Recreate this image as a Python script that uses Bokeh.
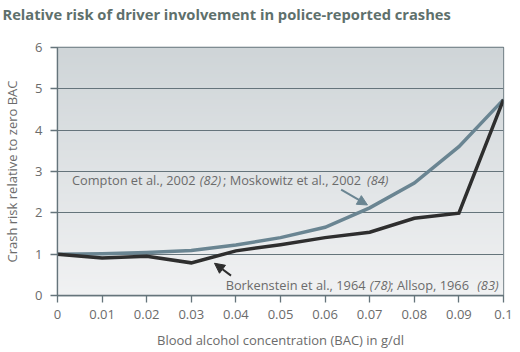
import numpy as np
from bokeh.plotting import figure
from bokeh.models import FixedTicker, Arrow, NormalHead, Label, Title
from bokeh.embed import file_html
from bokeh.resources import INLINE

bac = [0.0, 0.01, 0.02, 0.03, 0.04, 0.05, 0.06, 0.07, 0.08, 0.09, 0.1]
compton = [1.0, 1.01, 1.04, 1.09, 1.22, 1.40, 1.65, 2.12, 2.72, 3.60, 4.74]
borkenstein = [1.0, 0.91, 0.95, 0.79, 1.08, 1.23, 1.40, 1.53, 1.87, 1.99, 4.74]
x_ticks = [0, 0.01, 0.02, 0.03, 0.04, 0.05, 0.06, 0.07, 0.08, 0.09, 0.1]
x_tick_labels = ["0", "0.01", "0.02", "0.03", "0.04", "0.05", "0.06", "0.07", "0.08", "0.09", "0.1"]
y_ticks = [0, 1, 2, 3, 4, 5, 6]
title_text = "Relative risk of driver involvement in police-reported crashes"

FONT = "Open Sans"
AXIS_C = "#65747b"
TEXT_C = "#6b6b6b"
GRAY_LINE = "#6a8592"
DARK_LINE = "#2e2e2e"

p = figure(width=520, height=352, x_range=(0, 0.1), y_range=(0, 6),
           output_backend="svg", toolbar_location=None,
           min_border_left=53, min_border_right=17, min_border_top=0, min_border_bottom=57)
p.background_fill_color = "white"
p.border_fill_color = "white"
p.outline_line_color = AXIS_C
p.outline_line_width = 1.3

# gradient background
n = 200
top = np.array([0xcf, 0xd5, 0xd8], dtype=float)
bot = np.array([0xf1, 0xf2, 0xf3], dtype=float)
img = np.empty((n, 1), dtype=np.uint32)
view = img.view(dtype=np.uint8).reshape((n, 1, 4))
for i in range(n):
    t = i / (n - 1)  # 0 bottom -> 1 top
    c = bot + (top - bot) * t
    view[i, 0, 0] = int(c[0]); view[i, 0, 1] = int(c[1]); view[i, 0, 2] = int(c[2]); view[i, 0, 3] = 255
p.image_rgba(image=[img], x=0, y=0, dw=0.1, dh=6, level="image")

# title: spacer panel next to the frame, real title above it
p.title.text = ""
p.add_layout(Title(text=" ", text_font_size="1px", standoff=16), "above")
p.add_layout(Title(text=title_text, text_font=FONT, text_font_size="14.7px",
                   text_font_style="bold", text_color="#5e706c",
                   offset=-55, vertical_align="top", standoff=6), "above")

# grid
p.xgrid.grid_line_color = None
p.ygrid.ticker = FixedTicker(ticks=y_ticks)
p.ygrid.grid_line_color = AXIS_C
p.ygrid.grid_line_width = 1

# axes
for ax in (p.xaxis[0], p.yaxis[0]):
    ax.axis_line_color = AXIS_C
    ax.axis_line_width = 1.3
    ax.major_tick_line_color = AXIS_C
    ax.major_tick_line_width = 1.3
    ax.major_tick_out = 7
    ax.major_tick_in = 0
    ax.minor_tick_line_color = None
    ax.major_label_text_font = FONT
    ax.major_label_text_font_size = "13px"
    ax.major_label_text_color = TEXT_C
    ax.axis_label_text_font = FONT
    ax.axis_label_text_font_size = "13px"
    ax.axis_label_text_font_style = "normal"
    ax.axis_label_text_color = TEXT_C

p.xaxis.ticker = FixedTicker(ticks=x_ticks)
p.xaxis.major_label_overrides = {t: l for t, l in zip(x_ticks, x_tick_labels)}
p.xaxis.major_label_standoff = 7
p.xaxis.axis_label = "Blood alcohol concentration (BAC) in g/dl"
p.xaxis.axis_label_standoff = 9

p.yaxis.ticker = FixedTicker(ticks=y_ticks)
p.yaxis.major_label_standoff = 8
p.yaxis.axis_label = "Crash risk relative to zero BAC"
p.yaxis.axis_label_standoff = 11

# lines
p.line(bac, compton, line_color=GRAY_LINE, line_width=3.5, line_join="miter")
p.line(bac, borkenstein, line_color=DARK_LINE, line_width=3.5, line_join="miter")

# annotations
def seg(x, y, txt, italic=False):
    p.add_layout(Label(x=x, y=y, text=txt, text_font=FONT, text_font_size="12.8px",
                       text_color=TEXT_C, text_baseline="middle",
                       text_font_style="italic" if italic else "normal"))

dx = -0.0009
seg(0.00415 + dx, 2.80, "Compton et al., 2002")
seg(0.0328 + dx, 2.80, "(82)", True)
seg(0.0380 + dx, 2.80, "; Moskowitz et al., 2002")
seg(0.0703 + dx, 2.80, "(84)", True)

seg(0.0386 + dx, 0.25, "Borkenstein et al., 1964")
seg(0.0709 + dx, 0.25, "(78)", True)
seg(0.0755 + dx, 0.25, "; Allsop, 1966")
seg(0.0950 + dx, 0.25, "(83)", True)

p.add_layout(Arrow(x_start=0.0636, y_start=2.56, x_end=0.0695, y_end=2.19,
                   line_color=GRAY_LINE, line_width=2,
                   end=NormalHead(size=10, fill_color=GRAY_LINE, line_color=GRAY_LINE)))
p.add_layout(Arrow(x_start=0.0389, y_start=0.48, x_end=0.0352, y_end=0.78,
                   line_color=DARK_LINE, line_width=2,
                   end=NormalHead(size=10, fill_color=DARK_LINE, line_color=DARK_LINE)))

open("out.html", "w").write(file_html(p, INLINE))
